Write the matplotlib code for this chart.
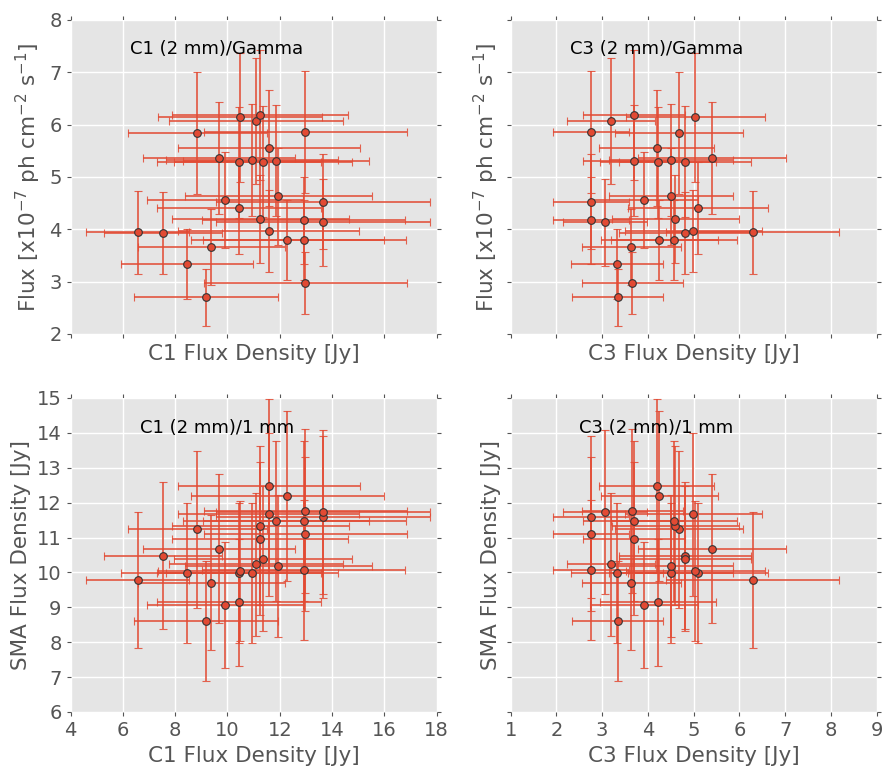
import numpy as np
import matplotlib
matplotlib.use("Agg")
import matplotlib.pyplot as plt

# per-epoch flux densities and uncertainties
c1_flux = [6.57, 7.53, 8.45, 8.85, 9.17, 9.38, 9.68, 9.90, 10.43, 10.43, 10.47, 10.93, 11.10, 11.24,
           11.26, 11.36, 11.57, 11.59, 11.86, 11.95, 12.29, 12.92, 12.94, 12.98, 12.98, 13.64, 13.64]
c1_err = [1.97, 2.26, 2.54, 2.66, 2.75, 2.81, 2.90, 2.97, 3.13, 3.13, 3.14, 3.28, 3.33, 3.37,
          3.38, 3.41, 3.47, 3.48, 3.56, 3.59, 3.69, 3.88, 3.88, 3.89, 3.89, 4.09, 4.09]

c3_flux = [6.29, 4.81, 3.33, 4.68, 3.34, 3.64, 5.40, 3.92, 5.09, 4.22, 5.04, 4.51, 3.20, 3.70,
           4.60, 4.81, 4.99, 4.19, 3.70, 4.51, 4.25, 2.75, 4.57, 3.66, 2.75, 2.75, 3.06]
c3_err = [1.89, 1.44, 1.00, 1.40, 1.00, 1.09, 1.62, 1.18, 1.53, 1.27, 1.51, 1.35, 0.96, 1.11,
          1.38, 1.44, 1.50, 1.26, 1.11, 1.35, 1.28, 0.83, 1.37, 1.10, 0.83, 0.83, 0.92]

gamma_flux = [3.94, 3.93, 3.34, 5.84, 2.70, 3.66, 5.37, 4.56, 4.40, 5.28, 6.14, 5.33, 6.07, 6.19,
              4.19, 5.29, 3.97, 5.56, 5.31, 4.63, 3.80, 4.17, 3.79, 2.97, 5.86, 4.53, 4.13]
gamma_err = [0.79, 0.79, 0.67, 1.17, 0.54, 0.73, 1.07, 0.91, 0.88, 1.06, 1.23, 1.07, 1.21, 1.24,
             0.84, 1.06, 0.79, 1.11, 1.06, 0.93, 0.76, 0.83, 0.76, 0.59, 1.17, 0.91, 0.83]

sma_flux = [9.77, 10.48, 9.98, 11.24, 8.62, 9.71, 10.68, 9.06, 9.99, 9.14, 10.03, 9.98, 10.23, 10.97,
            11.34, 10.39, 11.66, 12.47, 11.47, 10.18, 12.19, 10.07, 11.47, 11.77, 11.10, 11.60, 11.74]
sma_err = [1.95, 2.10, 2.00, 2.25, 1.72, 1.94, 2.14, 1.81, 2.00, 1.83, 2.01, 2.00, 2.05, 2.19,
           2.27, 2.08, 2.33, 2.49, 2.29, 2.04, 2.44, 2.01, 2.29, 2.35, 2.22, 2.32, 2.35]

plt.style.use("ggplot")
red = "#E24A33"

fig, axes = plt.subplots(2, 2, sharex="col", sharey="row", figsize=(8.82, 7.68), dpi=100)
fig.subplots_adjust(left=0.08, right=0.994, bottom=0.073, top=0.974, wspace=0.202, hspace=0.204)

panels = [
	(axes[0, 0], c1_flux, c1_err, gamma_flux, gamma_err, "C1 (2 mm)/Gamma", 0.163, 0.908),
	(axes[0, 1], c3_flux, c3_err, gamma_flux, gamma_err, "C3 (2 mm)/Gamma", 0.161, 0.908),
	(axes[1, 0], c1_flux, c1_err, sma_flux, sma_err, "C1 (2 mm)/1 mm", 0.19, 0.904),
	(axes[1, 1], c3_flux, c3_err, sma_flux, sma_err, "C3 (2 mm)/1 mm", 0.188, 0.904),
]

for ax, x, xe, y, ye, title, tx, ty in panels:
	ax.errorbar(x, y, xerr=xe, yerr=ye, fmt="o", ms=5.5, mfc=red, mec="#333333", mew=0.8,
	            ecolor=(0.886, 0.29, 0.2, 0.85), elinewidth=1.3, capsize=3, capthick=1.1)
	ax.text(tx, ty, title, transform=ax.transAxes, ha="left", va="center", fontsize=13, color="k")
	ax.grid(True, color="white", lw=1)
	ax.set_axisbelow(True)
	ax.tick_params(direction="out", length=3, width=0.8, color="#555555", labelcolor="#555555",
	               labelsize=14, top=True, right=True)
	for sp in ax.spines.values():
		sp.set_visible(False)

ylab_gamma = r"Flux [x10$^{-7}$ ph cm$^{-2}$ s$^{-1}$]"
for ax in axes[0]:
	ax.set_ylim(2, 8)
	ax.set_yticks(np.arange(2, 9, 1))
	ax.set_ylabel(ylab_gamma, fontsize=15.5, color="#555555")
for ax in axes[1]:
	ax.set_ylim(6, 15)
	ax.set_yticks(np.arange(6, 16, 1))
	ax.set_ylabel("SMA Flux Density [Jy]", fontsize=15.5, color="#555555")

for ax in axes[:, 0]:
	ax.set_xlim(4, 18)
	ax.set_xticks(np.arange(4, 19, 2))
	ax.set_xlabel("C1 Flux Density [Jy]", fontsize=15.5, color="#555555")
for ax in axes[:, 1]:
	ax.set_xlim(1, 9)
	ax.set_xticks(np.arange(1, 10, 1))
	ax.set_xlabel("C3 Flux Density [Jy]", fontsize=15.5, color="#555555")

fig.savefig("out.png", dpi=100, facecolor="white")
